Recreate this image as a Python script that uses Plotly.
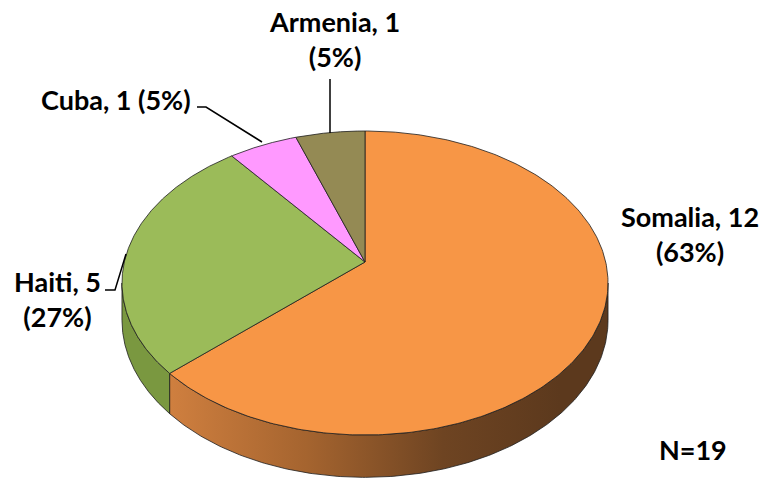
import numpy as np
import plotly.graph_objects as go

# ---- data ----
countries = ["Somalia", "Haiti", "Cuba", "Armenia"]
counts = [12, 5, 1, 1]
pct_labels = ["63%", "27%", "5%", "5%"]
total_label = "N=19"

top_colors = ["#f79646", "#9bbb59", "#ff99ff", "#948a54"]

# ---- geometry of the tilted (perspective) pie ----
CX, CY = 365.0, 262.0
A0, B0, P, H = 240.7, 149.1, 0.1382, 36.5


def proj(theta_deg, depth=0.0):
    t = np.radians(theta_deg)
    u, v = np.sin(t), np.cos(t)
    d = 1 + P * v
    return CX + A0 * u / d, CY - B0 * v / d + depth * H / d


total = sum(counts)
cum = np.concatenate([[0], np.cumsum(counts)]) / total * 360.0
vis_lo = np.degrees(np.arccos(-P))
vis_hi = 360.0 - vis_lo

fig = go.Figure()
outline = dict(color="#1e1e1e", width=0.8)

# side walls (front part only)
side_styles = {
    "Somalia": dict(fillgradient=dict(type="horizontal", start=170, stop=560,
                                      colorscale=[[0, "#cf7f3f"], [0.35, "#a5642f"],
                                                  [0.7, "#6e4422"], [1, "#5c391d"]])),
    "Haiti": dict(fillcolor="#7a9840"),
}
for i, name in enumerate(countries):
    t0, t1 = max(cum[i], vis_lo), min(cum[i + 1], vis_hi)
    if t1 <= t0:
        continue
    th = np.linspace(t0, t1, 200)
    xt, yt = proj(th, 0)
    xb, yb = proj(th[::-1], 1)
    xs = np.concatenate([xt, xb, xt[:1]])
    ys = np.concatenate([yt, yb, yt[:1]])
    fig.add_trace(go.Scatter(x=xs, y=ys, mode="lines", fill="toself", line=outline,
                             hoverinfo="skip", showlegend=False,
                             **side_styles.get(name, dict(fillcolor="#777"))))

# top faces
for i, name in enumerate(countries):
    th = np.linspace(cum[i], cum[i + 1], 300)
    xa, ya = proj(th, 0)
    xs = np.concatenate([[CX], xa, [CX]])
    ys = np.concatenate([[CY], ya, [CY]])
    fig.add_trace(go.Scatter(x=xs, y=ys, mode="lines", fill="toself",
                             fillcolor=top_colors[i], line=outline,
                             name=name, hoverinfo="name", showlegend=False))

# labels
label_font = dict(family="Lato", size=27, color="black", weight="bold")
label_pos = {
    "Somalia": (690, 234, "<br>"),
    "Haiti": (57, 299, "<br>"),
    "Cuba": (116, 99, " "),
    "Armenia": (334, 39, "<br>"),
}
for i, name in enumerate(countries):
    x, y, sep = label_pos[name]
    fig.add_annotation(x=x, y=y, text=f"{name}, {counts[i]}{sep}({pct_labels[i]})",
                       showarrow=False, font=label_font, align="center",
                       xanchor="center", yanchor="middle")
fig.add_annotation(x=693, y=449, text=total_label, showarrow=False, font=label_font,
                   xanchor="center", yanchor="middle")

# leader lines
leader = dict(color="black", width=1.5)
fig.add_shape(type="path", path="M 330,79 L 330,133", line=leader)
fig.add_shape(type="path", path="M 197,107 L 206,107 L 262,142", line=leader)
fig.add_shape(type="path", path="M 105,290 L 115,290 L 126,254", line=leader)

fig.update_layout(
    width=766, height=480, margin=dict(l=0, r=0, t=0, b=0),
    paper_bgcolor="white", plot_bgcolor="white",
    xaxis=dict(range=[0, 766], visible=False, fixedrange=True),
    yaxis=dict(range=[480, 0], visible=False, fixedrange=True),
)
fig.write_html("out.html", config={"displayModeBar": False},
               post_script="document.body.style.margin='0';"
                           "document.body.style.overflow='hidden';")
